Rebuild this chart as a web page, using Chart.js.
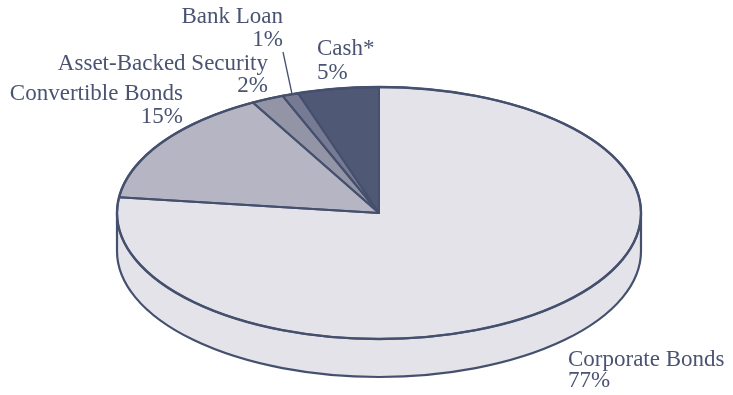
<!DOCTYPE html>
<html>
<head>
<meta charset="utf-8">
<script src="https://cdn.jsdelivr.net/npm/chart.js@4"></script>
<style>
html,body{margin:0;padding:0;background:#fff;}
#wrap{width:733px;height:395px;position:relative;}
#probe{font-family:"Liberation Serif","DejaVu Serif",serif;position:absolute;left:-999px;top:0;}
</style>
</head>
<body>
<div id="wrap"><canvas id="c" width="733" height="395"></canvas></div>
<span id="probe">Corporate Bonds</span>
<script>
// Data (clockwise from 12 o'clock)
const categories = ["Corporate Bonds", "Convertible Bonds", "Asset-Backed Security", "Bank Loan", "Cash*"];
const values = [77, 15, 2, 1, 5];
const valueLabels = ["77%", "15%", "2%", "1%", "5%"];
const sliceColors = ["#e4e3e9", "#b6b5c3", "#9394a6", "#767b93", "#4f5875"];

const BORDER = "#45506e";
const TEXT = "#4a5472";
const TILT = 126 / 262;   // vertical squash of the pie
const DEPTH = 38;         // extrusion in screen px
const FONT = '23px "Liberation Serif", "DejaVu Serif", serif';

// label layout: [x, y(first baseline), align, leader line]
const labelLayout = [
  {x: 568, y: 366, align: "left", gap: 21},
  {x: 183, y: 100, align: "right", gap: 23},
  {x: 268, y: 70, align: "right", gap: 22},
  {x: 283, y: 23, align: "right", gap: 23, leader: [[283, 52], [292, 94]]},
  {x: 317, y: 55, align: "left", gap: 24}
];

function squash(ctx, cx, cy) {
  ctx.translate(cx, cy);
  ctx.scale(1, TILT);
  ctx.translate(-cx, -cy);
}

const pie3d = {
  id: "pie3d",
  beforeDatasetsDraw(chart) {
    const ctx = chart.ctx;
    const arcs = chart.getDatasetMeta(0).data;
    const a0 = arcs[0];
    const cx = a0.x, cy = a0.y, r = a0.outerRadius;
    const D = DEPTH / TILT;
    ctx.save();
    ctx.save();
    squash(ctx, cx, cy);
    ctx.beginPath();
    ctx.moveTo(cx + r, cy);
    ctx.lineTo(cx + r, cy + D);
    ctx.arc(cx, cy + D, r, 0, Math.PI, false);
    ctx.lineTo(cx - r, cy);
    ctx.arc(cx, cy, r, Math.PI, 0, true);
    ctx.closePath();
    ctx.restore();
    ctx.fillStyle = sliceColors[0];
    ctx.fill();
    ctx.save();
    squash(ctx, cx, cy);
    ctx.beginPath();
    ctx.moveTo(cx + r, cy);
    ctx.lineTo(cx + r, cy + D);
    ctx.arc(cx, cy + D, r, 0, Math.PI, false);
    ctx.lineTo(cx - r, cy);
    ctx.restore();
    ctx.strokeStyle = BORDER;
    ctx.lineWidth = 2.2;
    ctx.stroke();
    ctx.restore();
    ctx.save();
    squash(ctx, cx, cy);
  },
  afterDatasetsDraw(chart) {
    const ctx = chart.ctx;
    ctx.restore();
    const arcs = chart.getDatasetMeta(0).data;
    ctx.save();
    ctx.strokeStyle = BORDER;
    ctx.lineJoin = "round";
    arcs.forEach((a) => {
      ctx.save();
      squash(ctx, a.x, a.y);
      ctx.beginPath();
      ctx.moveTo(a.x, a.y);
      ctx.arc(a.x, a.y, a.outerRadius, a.startAngle, a.endAngle);
      ctx.closePath();
      ctx.restore();
      ctx.lineWidth = 2;
      ctx.stroke();
    });
    const a0 = arcs[0];
    ctx.save();
    squash(ctx, a0.x, a0.y);
    ctx.beginPath();
    ctx.arc(a0.x, a0.y, a0.outerRadius, 0, Math.PI * 2);
    ctx.restore();
    ctx.lineWidth = 2.4;
    ctx.stroke();
    ctx.restore();
  },
  afterDraw(chart) {
    const ctx = chart.ctx;
    ctx.save();
    ctx.fillStyle = TEXT;
    ctx.font = FONT;
    ctx.textBaseline = "alphabetic";
    categories.forEach((name, i) => {
      const L = labelLayout[i];
      ctx.textAlign = L.align;
      ctx.fillText(name, L.x, L.y);
      ctx.fillText(valueLabels[i], L.x, L.y + L.gap);
      if (L.leader) {
        ctx.beginPath();
        ctx.moveTo(L.leader[0][0], L.leader[0][1]);
        ctx.lineTo(L.leader[1][0], L.leader[1][1]);
        ctx.strokeStyle = BORDER;
        ctx.lineWidth = 1.3;
        ctx.stroke();
      }
    });
    ctx.restore();
  }
};

function build() {
  new Chart(document.getElementById("c"), {
    type: "pie",
    data: {
      labels: categories,
      datasets: [{
        data: values,
        backgroundColor: sliceColors,
        borderWidth: 0
      }]
    },
    options: {
      responsive: false,
      animation: false,
      radius: 262,
      layout: {padding: {left: 25, right: 0, top: 31, bottom: 0}},
      plugins: {legend: {display: false}, tooltip: {enabled: false}}
    },
    plugins: [pie3d]
  });
}
if (document.fonts && document.fonts.load) {
  document.fonts.load(FONT, "Corporate Bonds").then(build, build);
} else {
  build();
}
</script>
</body>
</html>
